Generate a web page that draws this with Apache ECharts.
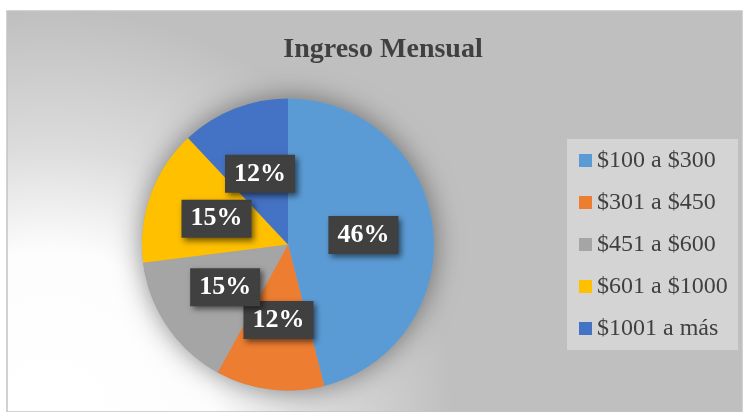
<!DOCTYPE html>
<html>
<head>
<meta charset="utf-8">
<script src="https://cdn.jsdelivr.net/npm/echarts@6/dist/echarts.min.js"></script>
<style>
  html, body { margin: 0; padding: 0; background: #ffffff; }
  #chart { width: 743px; height: 412px; }
</style>
</head>
<body>
<div id="chart"></div>
<script>
// Monthly income brackets and their share of respondents (percent)
const categories = ['$100 a $300', '$301 a $450', '$451 a $600', '$601 a $1000', '$1001 a más'];
const shares = [46, 12, 15, 15, 12];
const sliceColors = ['#5B9BD5', '#ED7D31', '#A5A5A5', '#FFC000', '#4472C4'];
const titleText = 'Ingreso Mensual';

const serif = '"Liberation Serif", "Times New Roman", serif';
const center = [288, 244.5];
const radius = 146;

const chart = echarts.init(document.getElementById('chart'), null, { renderer: 'canvas' });

chart.setOption({
  animation: false,
  color: sliceColors,
  graphic: [
    {
      // chart area with soft light spot in the lower-left
      type: 'rect',
      z: -10,
      shape: { x: 7, y: 11, width: 735, height: 401 },
      style: {
        fill: new echarts.graphic.RadialGradient(0.06, 1.0, 1.0, [
          { offset: 0, color: '#ffffff' },
          { offset: 0.4, color: '#fdfdfd' },
          { offset: 0.66, color: '#dcdcdc' },
          { offset: 1, color: '#bfbfbf' }
        ]),
        stroke: '#c4c4c4',
        lineWidth: 1.5
      }
    },
    {
      // legend panel
      type: 'rect',
      z: -5,
      shape: { x: 567, y: 139, width: 171, height: 211 },
      style: { fill: '#d4d4d4' }
    }
  ],
  title: {
    text: titleText,
    left: 383,
    top: 36,
    padding: 0,
    textAlign: 'center',
    textStyle: {
      fontFamily: serif,
      fontWeight: 'bold',
      fontSize: 28,
      color: '#404040'
    }
  },
  legend: {
    orient: 'vertical',
    left: 579,
    top: 148.5,
    padding: 0,
    data: categories,
    icon: 'rect',
    itemWidth: 13,
    itemHeight: 13,
    itemGap: 18,
    selectedMode: false,
    textStyle: {
      fontFamily: serif,
      fontSize: 24,
      lineHeight: 24,
      color: '#404040'
    }
  },
  series: [
    {
      // drop shadow under the pie
      type: 'pie',
      silent: true,
      z: 1,
      center: center,
      radius: radius,
      label: { show: false },
      labelLine: { show: false },
      itemStyle: {
        color: '#a0a0a0',
        shadowBlur: 28,
        shadowColor: 'rgba(0,0,0,0.45)',
        shadowOffsetX: 0,
        shadowOffsetY: 0
      },
      data: [{ value: 1, name: 'sombra' }]
    },
    {
      type: 'pie',
      z: 2,
      center: center,
      radius: radius,
      startAngle: 90,
      clockwise: true,
      avoidLabelOverlap: false,
      labelLayout: { hideOverlap: false },
      itemStyle: { borderWidth: 0 },
      emphasis: { disabled: true },
      labelLine: { show: false },
      label: {
        show: true,
        position: 'inside',
        formatter: p => p.value + '%',
        fontFamily: serif,
        fontWeight: 'bold',
        fontSize: 26,
        lineHeight: 26,
        color: '#ffffff',
        backgroundColor: '#404040',
        padding: [6, 9, 6, 9],
        shadowBlur: 6,
        shadowColor: 'rgba(0,0,0,0.55)',
        shadowOffsetX: 3,
        shadowOffsetY: 3
      },
      data: categories.map((name, i) => ({ name: name, value: shares[i] }))
    }
  ]
});
</script>
</body>
</html>
